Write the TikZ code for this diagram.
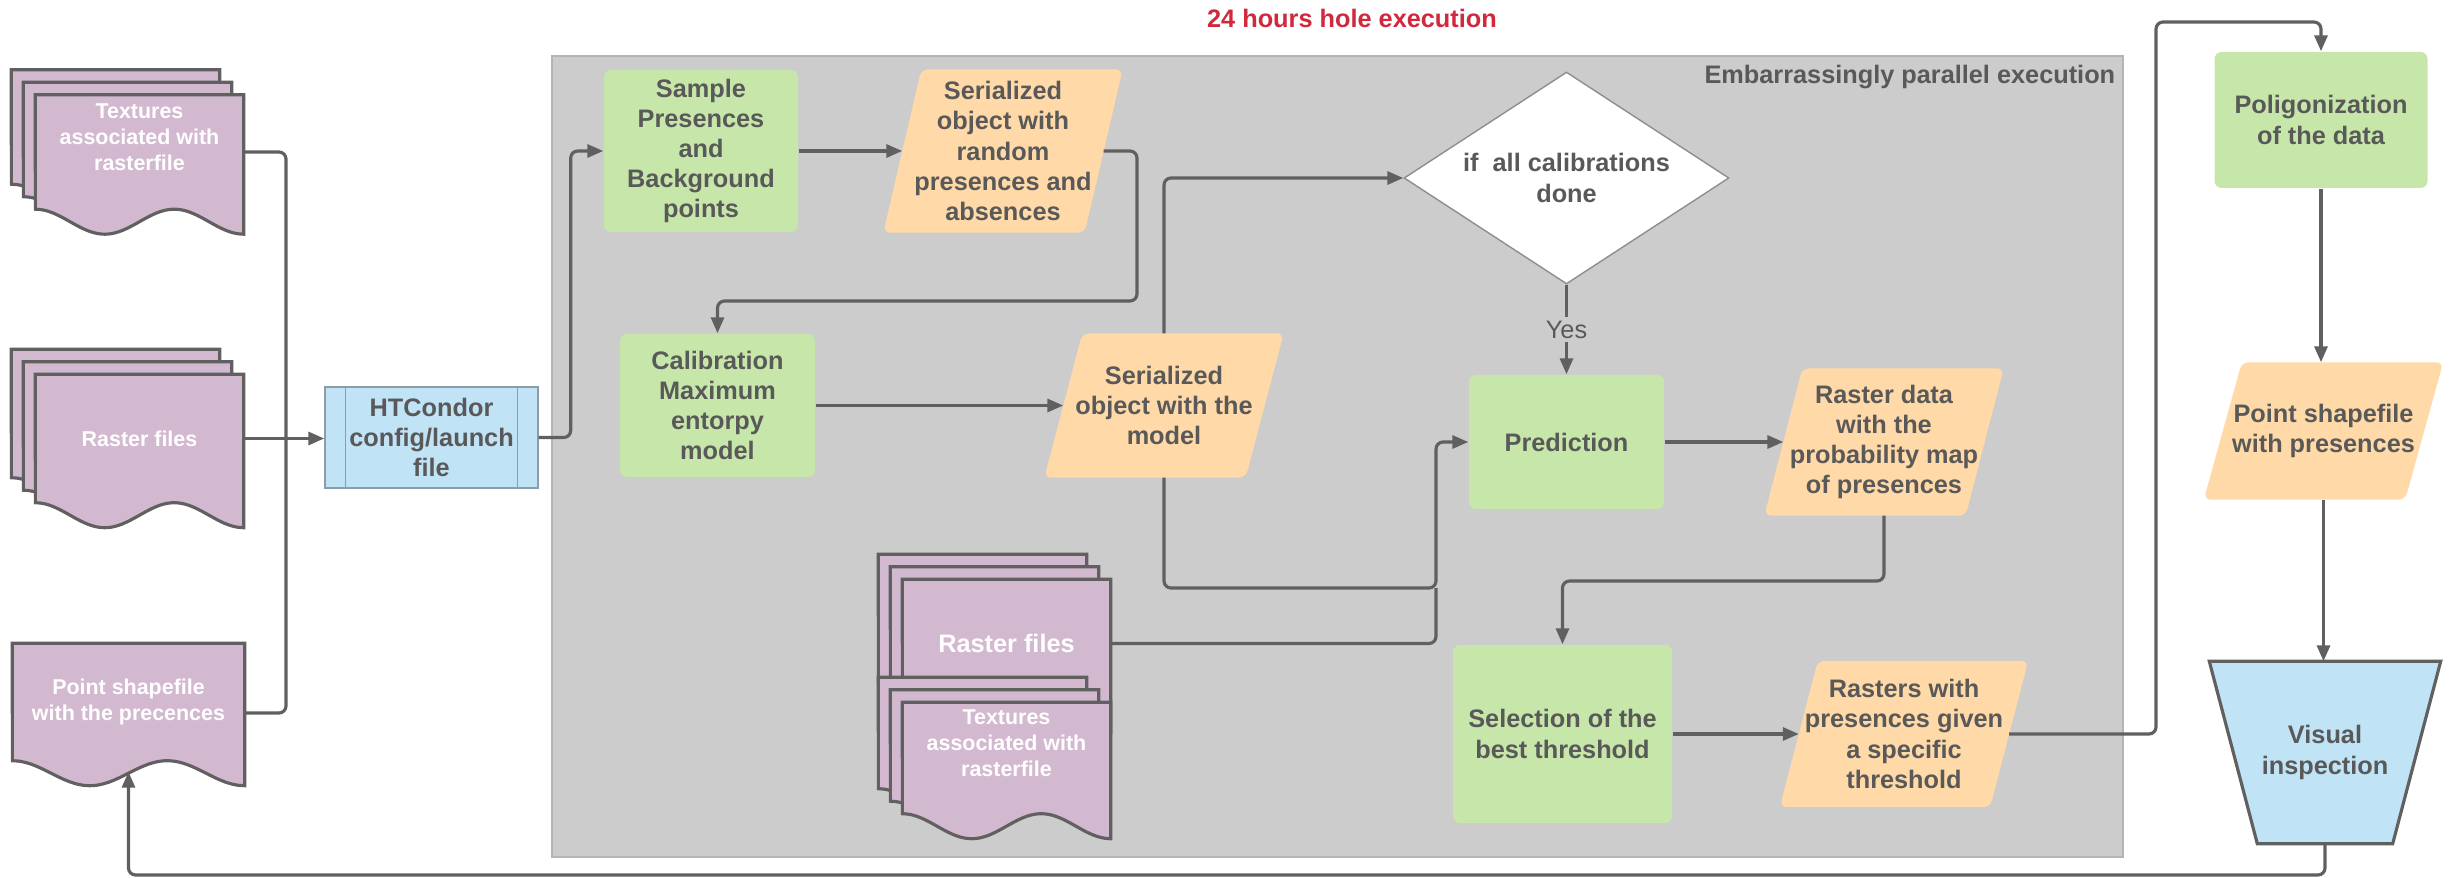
\documentclass[tikz,border=0pt]{standalone}
\usepackage{fontspec}
\setmainfont{Liberation Sans}
\usepackage{tikz}
\usetikzlibrary{arrows.meta,positioning,calc,shapes.geometric,backgrounds}
\pgfdeclarelayer{shapes}
\pgfsetlayers{background,shapes,main}

\definecolor{ink}{HTML}{595959}
\definecolor{wire}{HTML}{606060}
\definecolor{plum}{HTML}{D3B9D0}
\definecolor{leaf}{HTML}{C7E7AA}
\definecolor{peach}{HTML}{FFD9A7}
\definecolor{sky}{HTML}{C1E3F6}
\definecolor{panel}{HTML}{CCCCCC}
\definecolor{panelrim}{HTML}{B4B4B4}
\definecolor{rim}{HTML}{8E8E8E}
\definecolor{condor}{HTML}{8C9CA8}
\definecolor{alert}{HTML}{D0283C}

\newcommand\docdx{0.12cm}
\newcommand\docdy{0.125cm}
\newcommand\docwave{0.25cm}
\newcommand\slant{0.19}

% wavy document sheet behind a node, #1 = place in the stack (0 = front)
\newcommand\docsheet[2][0]{%
  \filldraw[docline] let \p1=(#2.south west), \p2=(#2.north east) in
    ({\x1-#1*\docdx},{\y2+#1*\docdy}) -- ({\x2-#1*\docdx},{\y2+#1*\docdy})
    -- plot[variable=\t, domain=1:0, samples=37, smooth]
       ({\x1+\t*(\x2-\x1)-#1*\docdx},{\y1+#1*\docdy-\docwave*(1-cos(540*\t))/2})
    -- cycle;}
% slanted data box behind a node
\newcommand\slantbox[1]{%
  \fill[peach, rounded corners=2pt] ($(#1.south west)+(-\slant,0)$) -- ($(#1.south east)+(-\slant,0)$)
    -- ($(#1.north east)+(\slant,0)$) -- ($(#1.north west)+(\slant,0)$) -- cycle;}

\begin{document}
\begin{tikzpicture}[
  >={Triangle[length=1.6mm,width=1.3mm]},
  txt/.style={font=\fontsize{7.2}{8.6}\selectfont\bfseries, text=ink, align=center, inner sep=1pt},
  procbox/.style={txt, fill=leaf, rounded corners=2pt},
  databox/.style={txt, minimum width=2cm},
  docnode/.style={font=\fontsize{6.1}{7.4}\selectfont\bfseries, text=white, align=center,
    inner sep=1pt, minimum width=2.07cm},
  docup/.style={text depth=0.3cm},
  docline/.style={fill=plum, draw=wire, line width=0.9pt},
  flow/.style={->, wire, line width=0.9pt, rounded corners=2pt},
  yesl/.style={fill=panel, font=\fontsize{7.2}{8.6}\selectfont, text=ink, inner sep=1pt},
]
\useasboundingbox (0,0) rectangle (24.53,8.77);

% ---------- parallel block ----------
\begin{scope}[on background layer]
  \node[fill=panel, draw=panelrim, line width=0.8pt, minimum width=15.71cm,
    minimum height=8.01cm, inner sep=0pt] (par) at (13.375,4.205) {};
\end{scope}
\node[txt, anchor=north east] (parlbl) at ([xshift=-0.5mm,yshift=-0.6mm]par.north east)
  {Embarrassingly parallel execution};
\node[txt, text=alert] (ttl) at (13.52,8.59) {24 hours hole execution};

% ---------- inputs ----------
\node[docnode, docup, minimum height=1.13cm] (tex) at (1.395,7.25) {Textures\\associated with\\rasterfile};
\node[docnode, minimum height=1.27cm] (ras) at (1.395,4.385) {Raster files};
\node[docnode, minimum width=2.31cm, minimum height=1.16cm] (psf) at (1.285,1.75)
  {Point shapefile\\with the precences};

\node[txt, fill=sky, draw=condor, line width=0.4pt, minimum width=2.13cm, minimum height=1.01cm]
  (htc) at (4.315,4.395) {HTCondor\\config/launch\\file};
\draw[condor, line width=0.4pt] ([xshift=2.1mm]htc.north west) -- ([xshift=2.1mm]htc.south west)
  ([xshift=-2.1mm]htc.north east) -- ([xshift=-2.1mm]htc.south east);

% ---------- calibration ----------
\node[procbox, minimum width=1.94cm, minimum height=1.62cm] (smp) at (7.01,7.26)
  {Sample\\Presences\\and\\Background\\points};
\node[databox, minimum height=1.62cm] (so1) at (10.03,7.26)
  {Serialized\\object with\\random\\presences and\\absences};
\node[procbox, minimum width=1.95cm, minimum height=1.43cm] (cal) at (7.175,4.715)
  {Calibration\\Maximum\\entorpy\\model};
\node[databox, minimum height=1.43cm] (so2) at (11.64,4.715) {Serialized\\object with the\\model};
\node[txt, diamond, fill=white, draw=rim, line width=0.4pt, aspect=1.53, minimum width=3.25cm,
  minimum height=2.12cm, inner sep=0pt] (chk) at (15.665,6.99) {if\ \ all calibrations\\done};

% ---------- prediction ----------
\node[procbox, minimum width=1.95cm, minimum height=1.34cm] (prd) at (15.665,4.35) {Prediction};
\node[databox, minimum height=1.46cm] (rdt) at (18.84,4.35)
  {Raster data\\with the\\probability map\\of presences};
\node[procbox, minimum width=2.19cm, minimum height=1.78cm] (sel) at (15.625,1.43)
  {Selection of the\\best threshold};
\node[databox, minimum width=2.09cm, minimum height=1.45cm] (rwp) at (19.04,1.43)
  {Rasters with\\presences given\\a specific\\threshold};
\node[docnode, font=\fontsize{7.2}{8.6}\selectfont\bfseries, minimum height=1.27cm] (irf)
  at (10.065,2.335) {Raster files};
\node[docnode, docup, minimum height=1.10cm] (itx) at (10.065,1.19) {Textures\\associated with\\rasterfile};

% ---------- output ----------
\node[procbox, minimum width=2.13cm, minimum height=1.36cm] (pol) at (23.21,7.57)
  {Poligonization\\of the data};
\node[databox, minimum height=1.36cm] (psp) at (23.235,4.46) {Point shapefile\\with presences};
\node[txt, minimum width=1.82cm, minimum height=1.81cm] (vis) at (23.25,1.245) {Visual\\inspection};

% shapes drawn under the texts
\begin{pgfonlayer}{shapes}
  \foreach \k in {2,1,0} {\docsheet[\k]{tex} \docsheet[\k]{ras}}
  \docsheet{psf}
  \foreach \k in {2,1,0} {\docsheet[\k]{irf}}
  \foreach \k in {2,1,0} {\docsheet[\k]{itx}}
  \foreach \n in {so1,so2,rdt,rwp,psp} {\slantbox{\n}}
  \filldraw[fill=sky, draw=wire, line width=0.9pt] ($(vis.north west)+(-0.24,0)$)
    -- ($(vis.north east)+(0.24,0)$) -- ($(vis.south east)+(-0.24,0)$)
    -- ($(vis.south west)+(0.24,0)$) -- cycle;
\end{pgfonlayer}

% ---------- connectors ----------
\coordinate (jl) at (2.86,4.395);
\draw[flow, -] (tex.east) -| (jl);
\draw[flow, -] ([yshift=-1.1mm]psf.east) -| (jl);
\draw[flow] (ras.east) -- (ras.east -| htc.west);
\draw[flow] (htc.east) -- ++(0.32,0) |- (smp.west);
\draw[flow] (smp.east) -- (so1.west);
\coordinate (k1) at (11.37,5.76);
\draw[flow] (so1.east) -| (k1) -| (cal.north);
\draw[flow] (cal.east) -- (so2.west);
\draw[flow] (so2.north) |- (chk.west);
\draw[flow] (chk.south) -- node[yesl] {Yes} (prd.north);
\coordinate (k2) at (14.36,2.89);
\draw[flow] (so2.south) |- (k2) |- (prd.west);
\draw[flow, -] (irf.east) -| (k2);
\draw[flow] (prd.east) -- (rdt.west);
\coordinate (k3) at (15.625,2.96);
\draw[flow] (rdt.south) |- (k3) -- (sel.north);
\draw[flow] (sel.east) -- (rwp.west);
\coordinate (k4) at (21.56,8.55);
\draw[flow] (rwp.east) -| (k4) -| (pol.north);
\draw[flow] (pol.south) -- (pol.south |- psp.north);
\draw[flow] (psp.south) -- (psp.south |- vis.north);
\coordinate (kb) at (0,0.02);
\draw[flow] (vis.south) -- (vis.south |- kb) -| ([yshift=-1.1mm]psf.south);

\end{tikzpicture}
\end{document}
